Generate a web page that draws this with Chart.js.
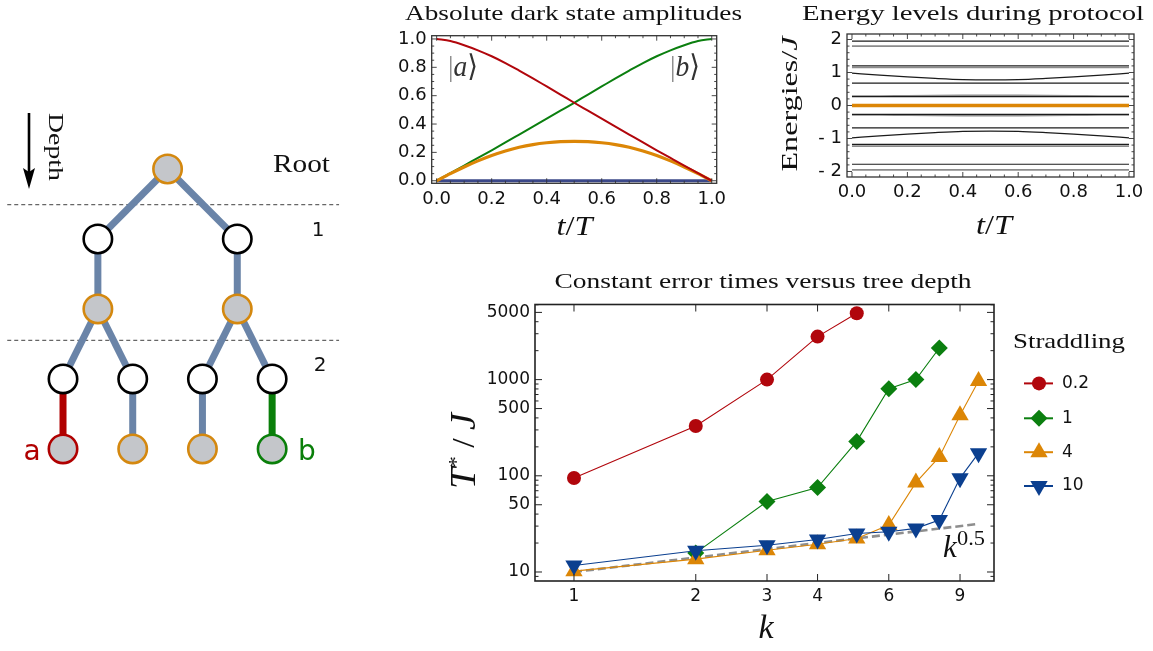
<!DOCTYPE html>
<html>
<head>
<meta charset="utf-8">
<script src="https://cdn.jsdelivr.net/npm/chart.js@4.4.1/dist/chart.umd.min.js"></script>
<style>
  html, body { margin: 0; padding: 0; background: #fff; }
  #fig { position: relative; width: 1153px; height: 651px; overflow: hidden; background: #fff; }
  .panel { position: absolute; }
  canvas { display: block; }
</style>
</head>
<body>
<div id="fig">
  <div class="panel" style="left:0px;top:0px"><canvas id="tree" width="350" height="500"></canvas></div>
  <div class="panel" style="left:380px;top:0px"><canvas id="amp" width="372" height="245"></canvas></div>
  <div class="panel" style="left:760px;top:0px"><canvas id="energy" width="393" height="245"></canvas></div>
  <div class="panel" style="left:420px;top:255px"><canvas id="times" width="733" height="396"></canvas></div>
</div>
<script>
// ---------------- data ----------------
// Tree: node positions in (column, depth row) units, node kinds and edges
const treeCols  = [1.5, 0.5, 2.5, 0.5, 2.5, 0, 1, 2, 3, 0, 1, 2, 3];
const treeRows  = [0, 1, 1, 2, 2, 3, 3, 3, 3, 4, 4, 4, 4];
const treeKinds = ['site', 'link', 'link', 'site', 'site', 'link', 'link', 'link', 'link', 'a', 'site', 'site', 'b'];
const treeEdges = [[0, 1], [0, 2], [1, 3], [2, 4], [3, 5], [3, 6], [4, 7], [4, 8], [5, 9], [6, 10], [7, 11], [8, 12]];
const depthCuts = [0.51, 2.45];

// Dark state amplitudes versus t/T
const tGrid     = [0, 0.05, 0.1, 0.15, 0.2, 0.25, 0.3, 0.35, 0.4, 0.45, 0.5, 0.55, 0.6, 0.65, 0.7, 0.75, 0.8, 0.85, 0.9, 0.95, 1.0];
const ampA      = [1.0, 0.985, 0.956, 0.92, 0.878, 0.83, 0.777, 0.722, 0.665, 0.608, 0.55, 0.494, 0.438, 0.382, 0.326, 0.27, 0.215, 0.161, 0.107, 0.053, 0];
const ampB      = [0, 0.053, 0.107, 0.161, 0.215, 0.27, 0.326, 0.382, 0.438, 0.494, 0.55, 0.608, 0.665, 0.722, 0.777, 0.83, 0.878, 0.92, 0.956, 0.985, 1.0];
const ampMiddle = [0, 0.05, 0.097, 0.14, 0.178, 0.21, 0.236, 0.255, 0.268, 0.276, 0.278, 0.276, 0.268, 0.255, 0.236, 0.21, 0.178, 0.14, 0.097, 0.05, 0];
const ampOthers = [0, 0];
const tEnds     = [0, 1];
const ampXTicks = [0, 0.2, 0.4, 0.6, 0.8, 1.0];
const ampYTicks = [0, 0.2, 0.4, 0.6, 0.8, 1.0];

// Energy levels during the protocol
const tLevel          = [0, 0.1, 0.2, 0.3, 0.4, 0.5, 0.6, 0.7, 0.8, 0.9, 1.0];
const blackFlatLevels = [1.95, 1.20, 0.68, 0.27, -0.27, -0.68, -1.18, -1.78];
const greyFlatLevels  = [1.80, 1.15, -1.23, -1.95];
const bentUpper       = [0.98, 0.92, 0.865, 0.82, 0.785, 0.775, 0.785, 0.82, 0.865, 0.92, 0.98];
const bentLower       = [-0.98, -0.92, -0.865, -0.82, -0.785, -0.775, -0.785, -0.82, -0.865, -0.92, -0.98];
const greyNearUpper   = [0.285, 0.29, 0.297, 0.303, 0.307, 0.308, 0.307, 0.303, 0.297, 0.29, 0.285];
const greyNearLower   = [-0.285, -0.29, -0.297, -0.303, -0.307, -0.308, -0.307, -0.303, -0.297, -0.29, -0.285];
const darkLevel       = [0, 0];
const energyXTicks    = [0, 0.2, 0.4, 0.6, 0.8, 1.0];
const energyYTicks    = [-2, -1, 0, 1, 2];

// Constant error times T*/J versus depth k, for each straddling value
const straddling = ['0.2', '1', '4', '10'];
const kRed    = [1, 2, 3, 4, 5];
const tRed    = [95, 330, 1000, 2800, 4900];
const kGreen  = [2, 3, 4, 5, 6, 7, 8];
const tGreen  = [15.8, 54, 75.5, 228, 805, 1000, 2130];
const kOrange = [1, 2, 3, 4, 5, 6, 7, 8, 9, 10];
const tOrange = [10.2, 13.6, 16.8, 19.4, 22.3, 30.8, 85, 157, 427, 968];
const kBlue   = [1, 2, 3, 4, 5, 6, 7, 8, 9, 10];
const tBlue   = [11.7, 16.6, 19, 21.8, 25.1, 26.2, 28.4, 34.7, 94.6, 172];
const kGuide  = [1, 10];
const tGuide  = [10, 31.6];
const kTicks  = [1, 2, 3, 4, 6, 9];
const timeTicks      = [10, 50, 100, 500, 1000, 5000];
const timeMinorTicks = [9, 20, 30, 40, 60, 70, 80, 90, 200, 300, 400, 600, 700, 800, 900, 2000, 3000, 4000, 6000];

// ---------------- styling ----------------
const SERIF = '"Liberation Serif", "DejaVu Serif", serif';
const SANS = '"DejaVu Sans", sans-serif';
const RED = '#b1060c', GREEN = '#0b7f0f', ORANGE = '#dc8606', BLUE = '#0b3f8f', NAVY = '#3b4889';
const STEEL = '#6a84a8';
const TOP_TICK_FONT = { family: SANS, size: 18 };
const TICK_FONT = { family: SANS, size: 17 };

const pts = (xs, ys) => xs.map((x, i) => ({ x, y: ys[i] }));
const asTicks = vals => vals.map(v => ({ value: v }));

// Draws a line of mixed-style text runs, optionally rotated and stretched to a width
function textRun(ctx, runs, x, y, o = {}) {
  ctx.save();
  ctx.translate(x, y);
  if (o.rot) ctx.rotate(o.rot);
  let total = 0;
  runs.forEach(r => { ctx.font = r.font; r.w = ctx.measureText(r.t).width; total += r.w; });
  const sx = o.width ? o.width / total : 1;
  ctx.scale(sx, 1);
  let cx = o.align === 'left' ? 0 : (o.align === 'right' ? -total : -total / 2);
  ctx.textAlign = 'left';
  ctx.textBaseline = o.baseline || 'middle';
  runs.forEach(r => {
    ctx.font = r.font;
    ctx.fillStyle = r.color || '#111';
    ctx.fillText(r.t, cx, r.dy || 0);
    cx += r.w;
  });
  ctx.restore();
}

// Frame around the plot area with inward ticks on all four sides
const framePlugin = {
  id: 'frame',
  afterDatasetsDraw(chart, args, o) {
    const { ctx, chartArea: a } = chart;
    const sx = chart.scales.x, sy = chart.scales.y;
    ctx.save();
    ctx.strokeStyle = o.color;
    ctx.lineWidth = o.tickWidth;
    ctx.beginPath();
    const xt = (vals, len) => vals.forEach(v => {
      const p = sx.getPixelForValue(v);
      ctx.moveTo(p, a.bottom); ctx.lineTo(p, a.bottom - len);
      ctx.moveTo(p, a.top); ctx.lineTo(p, a.top + len);
    });
    const yt = (vals, len) => vals.forEach(v => {
      const p = sy.getPixelForValue(v);
      ctx.moveTo(a.left, p); ctx.lineTo(a.left + len, p);
      ctx.moveTo(a.right, p); ctx.lineTo(a.right - len, p);
    });
    xt(o.xMajor || [], o.majorLen); xt(o.xMinor || [], o.minorLen);
    yt(o.yMajor || [], o.majorLen); yt(o.yMinor || [], o.minorLen);
    ctx.stroke();
    ctx.lineWidth = o.frameWidth;
    ctx.strokeRect(a.left, a.top, a.right - a.left, a.bottom - a.top);
    ctx.restore();
  }
};

const baseOptions = () => ({
  responsive: false,
  animation: false,
  devicePixelRatio: 1,
  events: [],
  plugins: { legend: { display: false }, tooltip: { enabled: false } },
  elements: { point: { radius: 0 } }
});

function axisX(min, max, ticks, height, fmt, font, type = 'linear') {
  return {
    type, min, max,
    afterBuildTicks: s => { s.ticks = asTicks(ticks); },
    afterFit: s => { s.height = height; s.paddingLeft = 0; s.paddingRight = 0; },
    grid: { display: false, drawTicks: false },
    border: { display: false },
    ticks: { font, color: '#111', padding: 5, autoSkip: false, maxRotation: 0, callback: fmt }
  };
}
function axisY(min, max, ticks, width, fmt, font, type = 'linear') {
  return {
    type, min, max,
    afterBuildTicks: s => { s.ticks = asTicks(ticks); },
    afterFit: s => { s.width = width; s.paddingTop = 0; s.paddingBottom = 0; },
    grid: { display: false, drawTicks: false },
    border: { display: false },
    ticks: { font, color: '#111', padding: 5, autoSkip: false, callback: fmt }
  };
}

// ---------------- tree diagram ----------------
const nodeFill   = { site: '#c4c6ca', link: '#ffffff', a: '#c4c6ca', b: '#c4c6ca' };
const nodeBorder = { site: '#d4880f', link: '#000000', a: '#b00000', b: '#0a7f0a' };
const edgeColor  = child => treeKinds[child] === 'a' ? '#b00000' : (treeKinds[child] === 'b' ? '#0a7f0a' : STEEL);

const treeDatasets = [{
  type: 'scatter',
  data: pts(treeCols, treeRows),
  pointRadius: 14.2,
  pointBackgroundColor: treeKinds.map(k => nodeFill[k]),
  pointBorderColor: treeKinds.map(k => nodeBorder[k]),
  pointBorderWidth: 2.6,
  order: 0
}].concat(treeEdges.map(([p, c]) => ({
  type: 'scatter',
  data: [{ x: treeCols[p], y: treeRows[p] }, { x: treeCols[c], y: treeRows[c] }],
  showLine: true,
  borderColor: edgeColor(c),
  borderWidth: 7,
  borderCapStyle: 'butt',
  pointRadius: 0,
  order: 1
})));

const treeDecor = {
  id: 'treeDecor',
  beforeDatasetsDraw(chart) {
    const { ctx } = chart;
    const xs = chart.scales.x, ys = chart.scales.y;
    ctx.save();
    ctx.strokeStyle = '#666';
    ctx.lineWidth = 1.3;
    ctx.setLineDash([4, 3]);
    depthCuts.forEach(r => {
      const y = ys.getPixelForValue(r);
      ctx.beginPath();
      ctx.moveTo(xs.getPixelForValue(-0.8), y);
      ctx.lineTo(xs.getPixelForValue(3.96), y);
      ctx.stroke();
    });
    ctx.restore();
  },
  afterDraw(chart) {
    const { ctx } = chart;
    // depth arrow
    ctx.save();
    ctx.strokeStyle = '#000';
    ctx.fillStyle = '#000';
    ctx.lineWidth = 2.6;
    ctx.beginPath();
    ctx.moveTo(29, 113); ctx.lineTo(29, 175);
    ctx.stroke();
    ctx.beginPath();
    ctx.moveTo(29, 189); ctx.lineTo(23, 168); ctx.lineTo(29, 172); ctx.lineTo(35, 168);
    ctx.closePath();
    ctx.fill();
    ctx.restore();
    textRun(ctx, [{ t: 'Depth', font: `22px ${SERIF}` }], 55, 147, { rot: Math.PI / 2, width: 68 });
    textRun(ctx, [{ t: 'Root', font: `25px ${SERIF}` }], 301.5, 165, { width: 57 });
    textRun(ctx, [{ t: '1', font: `20px ${SANS}` }], 318, 231);
    textRun(ctx, [{ t: '2', font: `20px ${SANS}` }], 320, 366);
    textRun(ctx, [{ t: 'a', font: `28px ${SANS}`, color: '#b00000' }], 32, 460, { baseline: 'alphabetic' });
    textRun(ctx, [{ t: 'b', font: `28px ${SANS}`, color: '#0a7f0a' }], 307, 460, { baseline: 'alphabetic' });
  }
};

new Chart(document.getElementById('tree'), {
  type: 'scatter',
  data: { datasets: treeDatasets },
  options: Object.assign(baseOptions(), {
    layout: { padding: 0, autoPadding: false },
    scales: {
      x: { type: 'linear', min: -0.904, max: 4.117, display: false },
      y: { type: 'linear', min: -2.414, max: 4.729, reverse: true, display: false }
    }
  }),
  plugins: [treeDecor]
});

// ---------------- dark state amplitudes ----------------
const fixed1 = v => Number(v).toFixed(1);
const ampText = {
  id: 'ampText',
  afterDraw(chart) {
    const { ctx } = chart;
    textRun(ctx, [{ t: 'Absolute dark state amplitudes', font: `21px ${SERIF}` }], 193.5, 14, { width: 337 });
    textRun(ctx, [
      { t: 't', font: `italic 28px ${SERIF}` },
      { t: '/', font: `28px ${SERIF}` },
      { t: 'T', font: `italic 28px ${SERIF}` }
    ], 194.4, 228, { width: 36 });
    const ket = (s, x) => textRun(ctx, [
      { t: '|', font: `30px ${SERIF}`, color: '#888' },
      { t: s, font: `italic 30px ${SERIF}`, color: '#333' },
      { t: '\u27E9', font: `30px ${SERIF}`, color: '#333' }
    ], x, 68, { width: 30 });
    ket('a', 83);
    ket('b', 305);
  }
};

new Chart(document.getElementById('amp'), {
  type: 'line',
  data: {
    datasets: [
      { data: pts(tGrid, ampA), borderColor: RED, borderWidth: 2, cubicInterpolationMode: 'monotone', order: 1 },
      { data: pts(tGrid, ampMiddle), borderColor: ORANGE, borderWidth: 3.2, cubicInterpolationMode: 'monotone', order: 2 },
      { data: pts(tGrid, ampB), borderColor: GREEN, borderWidth: 2, cubicInterpolationMode: 'monotone', order: 3 },
      { data: pts(tEnds, ampOthers), borderColor: NAVY, borderWidth: 3, order: 4 }
    ]
  },
  options: Object.assign(baseOptions(), {
    layout: { padding: { top: 35.7, right: 35.3, left: 0, bottom: 0 }, autoPadding: false },
    scales: {
      x: axisX(-0.018, 1.018, ampXTicks, 61.7, fixed1, TOP_TICK_FONT),
      y: axisY(-0.018, 1.023, ampYTicks, 51.7, fixed1, TOP_TICK_FONT)
    },
    plugins: {
      legend: { display: false }, tooltip: { enabled: false },
      frame: {
        color: '#333', tickWidth: 0.9, frameWidth: 1.3, majorLen: 5, minorLen: 2.5,
        xMajor: ampXTicks, yMajor: ampYTicks,
        xMinor: [0.05, 0.1, 0.15, 0.25, 0.3, 0.35, 0.45, 0.5, 0.55, 0.65, 0.7, 0.75, 0.85, 0.9, 0.95],
        yMinor: [0.05, 0.1, 0.15, 0.25, 0.3, 0.35, 0.45, 0.5, 0.55, 0.65, 0.7, 0.75, 0.85, 0.9, 0.95]
      }
    }
  }),
  plugins: [framePlugin, ampText]
});

// ---------------- energy levels ----------------
const energyText = {
  id: 'energyText',
  afterDraw(chart) {
    const { ctx } = chart;
    textRun(ctx, [{ t: 'Energy levels during protocol', font: `21px ${SERIF}` }], 213, 14, { width: 342 });
    textRun(ctx, [
      { t: 't', font: `italic 28px ${SERIF}` },
      { t: '/', font: `28px ${SERIF}` },
      { t: 'T', font: `italic 28px ${SERIF}` }
    ], 234, 227, { width: 36 });
    textRun(ctx, [
      { t: 'Energies/', font: `24px ${SERIF}` },
      { t: 'J', font: `italic 24px ${SERIF}` }
    ], 30.5, 104, { rot: -Math.PI / 2, width: 135 });
  }
};

const levelLine = (xs, ys, color, width) => ({
  data: pts(xs, ys), borderColor: color, borderWidth: width, cubicInterpolationMode: 'monotone', order: 2
});
const energyDatasets = []
  .concat(greyFlatLevels.map(v => levelLine(tEnds, [v, v], '#8c8c8c', 1.6)))
  .concat(blackFlatLevels.map(v => levelLine(tEnds, [v, v], '#1c1c1c', 1.2)))
  .concat([
    levelLine(tLevel, greyNearUpper, '#8c8c8c', 1.6),
    levelLine(tLevel, greyNearLower, '#8c8c8c', 1.6),
    levelLine(tLevel, bentUpper, '#1c1c1c', 1.2),
    levelLine(tLevel, bentLower, '#1c1c1c', 1.2),
    Object.assign(levelLine(tEnds, darkLevel, ORANGE, 3.6), { order: 1 })
  ]);

new Chart(document.getElementById('energy'), {
  type: 'line',
  data: { datasets: energyDatasets },
  options: Object.assign(baseOptions(), {
    layout: { padding: { top: 34, right: 19, left: 0, bottom: 0 }, autoPadding: false },
    scales: {
      x: axisX(-0.018, 1.018, energyXTicks, 68, fixed1, TOP_TICK_FONT),
      y: axisY(-2.167, 2.167, energyYTicks, 87, v => (v < 0 ? '- ' + Math.abs(v) : String(v)), TOP_TICK_FONT)
    },
    plugins: {
      legend: { display: false }, tooltip: { enabled: false },
      frame: {
        color: '#333', tickWidth: 0.9, frameWidth: 1.3, majorLen: 5, minorLen: 2.5,
        xMajor: energyXTicks, yMajor: energyYTicks,
        xMinor: [0.05, 0.1, 0.15, 0.25, 0.3, 0.35, 0.45, 0.5, 0.55, 0.65, 0.7, 0.75, 0.85, 0.9, 0.95],
        yMinor: [-1.8, -1.6, -1.4, -1.2, -0.8, -0.6, -0.4, -0.2, 0.2, 0.4, 0.6, 0.8, 1.2, 1.4, 1.6, 1.8]
      }
    }
  }),
  plugins: [framePlugin, energyText]
});

// ---------------- constant error times ----------------
const series = (ks, ts, color, style, radius, rotation, label, order) => ({
  label, data: pts(ks, ts), borderColor: color, borderWidth: 1.1,
  pointStyle: style, pointRadius: radius, pointRotation: rotation,
  pointBackgroundColor: color, pointBorderWidth: 0, order
});
const timesDatasets = [
  series(kRed, tRed, RED, 'circle', 7, 0, straddling[0], 4),
  series(kGreen, tGreen, GREEN, 'rectRot', 8.5, 0, straddling[1], 3),
  series(kOrange, tOrange, ORANGE, 'triangle', 10, 0, straddling[2], 2),
  series(kBlue, tBlue, BLUE, 'triangle', 10, 180, straddling[3], 1),
  { data: pts(kGuide, tGuide), borderColor: '#8e8e8e', borderWidth: 2.6, borderDash: [8, 4], pointRadius: 0, order: 5 }
];

const timesText = {
  id: 'timesText',
  afterDraw(chart) {
    const { ctx } = chart;
    textRun(ctx, [{ t: 'Constant error times versus tree depth', font: `22px ${SERIF}` }], 343, 27, { width: 417 });
    textRun(ctx, [{ t: 'k', font: `italic 34px ${SERIF}` }], 346, 374);
    textRun(ctx, [
      { t: 'T', font: `italic 36px ${SERIF}` },
      { t: '*', font: `22px ${SERIF}`, dy: -9 },
      { t: ' / ', font: `32px ${SERIF}` },
      { t: 'J', font: `italic 36px ${SERIF}` }
    ], 46, 196, { rot: -Math.PI / 2, width: 76 });
    textRun(ctx, [{ t: 'k', font: `italic 31px ${SERIF}` }], 523, 302, { align: 'left', baseline: 'alphabetic' });
    textRun(ctx, [{ t: '0.5', font: `21px ${SERIF}` }], 537, 290, { align: 'left', baseline: 'alphabetic', width: 28 });

    // legend
    textRun(ctx, [{ t: 'Straddling', font: `22px ${SERIF}` }], 593, 87, { align: 'left', width: 112 });
    const rows = [128.4, 163.3, 197.2, 231];
    chart.data.datasets.filter(d => d.label).forEach((d, i) => {
      const y = rows[i];
      ctx.save();
      ctx.strokeStyle = d.borderColor;
      ctx.lineWidth = 2;
      ctx.beginPath();
      ctx.moveTo(604, y); ctx.lineTo(633, y);
      ctx.stroke();
      ctx.fillStyle = d.pointBackgroundColor;
      Chart.helpers.drawPoint(ctx, { pointStyle: d.pointStyle, rotation: d.pointRotation, radius: d.pointRadius, borderWidth: 0 }, 619, y);
      ctx.restore();
      textRun(ctx, [{ t: d.label, font: `17px ${SANS}` }], 642, y, { align: 'left' });
    });
  }
};

new Chart(document.getElementById('times'), {
  type: 'line',
  data: { datasets: timesDatasets },
  options: Object.assign(baseOptions(), {
    layout: { padding: { top: 49.5, right: 159, left: 0, bottom: 0 }, autoPadding: false },
    scales: {
      x: axisX(0.801, 10.92, kTicks, 70, v => String(v), TICK_FONT, 'logarithmic'),
      y: axisY(8.06, 6040, timeTicks, 115, v => String(v), TICK_FONT, 'logarithmic')
    },
    plugins: {
      legend: { display: false }, tooltip: { enabled: false },
      frame: {
        color: '#222', tickWidth: 1, frameWidth: 1.6, majorLen: 7, minorLen: 3.5,
        xMajor: kTicks, yMajor: timeTicks, yMinor: timeMinorTicks
      }
    }
  }),
  plugins: [framePlugin, timesText]
});
</script>
</body>
</html>
